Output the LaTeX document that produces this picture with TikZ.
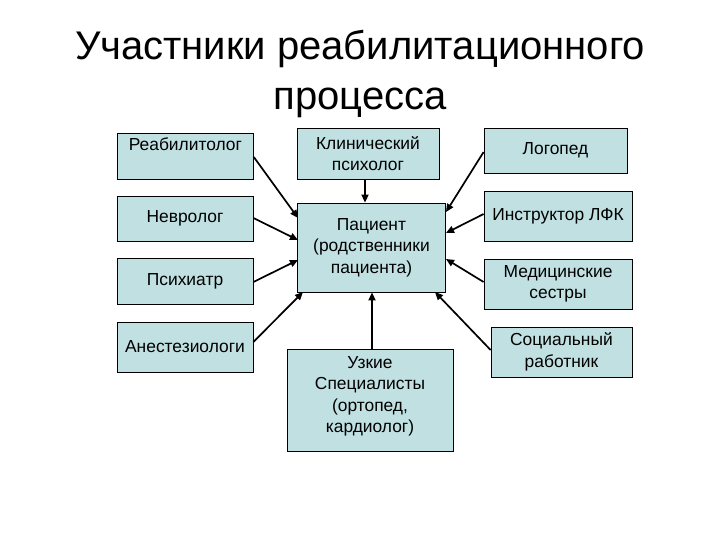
\documentclass[tikz,border=0pt]{standalone}
\usepackage{fontspec}
\setmainfont{Liberation Sans}
\usetikzlibrary{arrows.meta}
\definecolor{boxfill}{RGB}{192,224,226}
\begin{document}
\begin{tikzpicture}[x=1pt,y=-1pt,
  box/.style={draw=black, line width=0.8pt, fill=boxfill, align=center,
    font=\fontsize{17.4}{21.5}\selectfont, inner sep=0pt},
  arr/.style={-{Triangle[length=8pt,width=7pt]}, line width=1.7pt}]
\useasboundingbox (0,0) rectangle (720,540);
\node[font=\fontsize{40}{50}\selectfont, align=center] (title) at (360,74) {Участники реабилитационного\\процесса};
% left column
\node[box, minimum width=136pt, minimum height=46pt, anchor=north west, text depth=24pt] (reab) at (117,133) {Реабилитолог};
\node[box, minimum width=136pt, minimum height=45pt] (nevr) at (185,218.5) {Невролог};
\node[box, minimum width=136pt, minimum height=46pt] (psih) at (185,281) {Психиатр};
\node[box, minimum width=136pt, minimum height=50pt] (anest) at (185,347) {Анестезиологи};
% center column
\node[box, minimum width=142pt, minimum height=51pt] (klin) at (368,153.5) {Клинический\\психолог};
\node[box, minimum width=148pt, minimum height=89pt] (pac) at (371.5,247.5) {Пациент\\(родственники\\пациента)};
\node[box, minimum width=166pt, minimum height=102pt, anchor=north, text depth=12pt] (uzk) at (370,349) {Узкие\\Специалисты\\(ортопед,\\кардиолог)};
% right column
\node[box, minimum width=143pt, minimum height=45pt] (logo) at (555.5,150.5) {Логопед};
\node[box, minimum width=148pt, minimum height=50pt] (instr) at (558,216) {Инструктор ЛФК};
\node[box, minimum width=148pt, minimum height=50pt] (med) at (558,284) {Медицинские\\сестры};
\node[box, minimum width=141pt, minimum height=50pt] (soc) at (561.5,352) {Социальный\\работник};
% connectors
\coordinate (p1) at (298,218);
\coordinate (p2) at (298,240);
\coordinate (p3) at (298,260);
\coordinate (p4) at (303,292);
\coordinate (p5) at (446,212);
\coordinate (p6) at (446,233);
\coordinate (p7) at (446,259);
\coordinate (p8) at (435,292);
\draw[arr] (reab.east |- 0,157) -- (p1);
\draw[arr] (nevr.east |- 0,218) -- (p2);
\draw[arr] (psih.east |- 0,282) -- (p3);
\draw[arr] (anest.east |- 0,342) -- (p4);
\draw[arr] (klin.south -| 365,0) -- (pac.north -| 365,0);
\draw[arr] (uzk.north -| 372,0) -- (pac.south -| 372,0);
\draw[arr] (logo.west |- 0,152) -- (p5);
\draw[arr] (instr.west |- 0,214) -- (p6);
\draw[arr] (med.west |- 0,282) -- (p7);
\draw[arr] (soc.west |- 0,350) -- (p8);
\end{tikzpicture}
\end{document}
